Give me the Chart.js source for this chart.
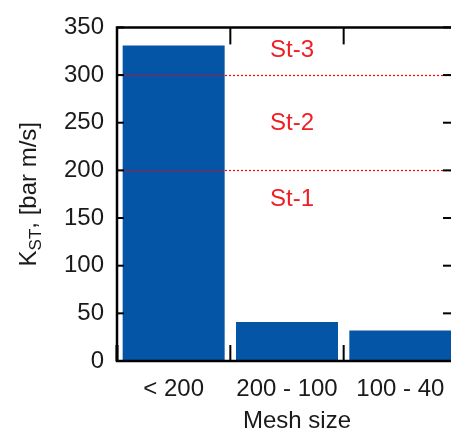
<!DOCTYPE html>
<html>
<head>
<meta charset="utf-8">
<script src="https://cdn.jsdelivr.net/npm/chart.js@4"></script>
<style>
html,body{margin:0;padding:0;background:#fff;overflow:hidden;}
#wrap{width:451px;height:432px;overflow:hidden;position:relative;}
#c{position:absolute;left:0;top:0;}
</style>
</head>
<body>
<div id="wrap"><canvas id="c" width="460" height="432"></canvas></div>
<script>
const categories = ["< 200", "200 - 100", "100 - 40"];
const kstValues = [331, 41, 32];
const yTicks = [0, 50, 100, 150, 200, 250, 300, 350];
const classLimits = [200, 300];
const classLabels = ["St-1", "St-2", "St-3"];
const classLabelValues = [170, 249, 326];

const FONT = "'Liberation Sans', Arial, sans-serif";
const TXT = "#1a1a1a";

const framePlugin = {
  id: 'frame',
  afterDatasetsDraw(chart) {
    const ctx = chart.ctx;
    const x = chart.scales.x, y = chart.scales.y;
    const L = chart.chartArea.left, R = chart.chartArea.right, T = chart.chartArea.top, B = chart.chartArea.bottom;
    ctx.save();
    // dotted class limit lines
    ctx.strokeStyle = '#ff0000';
    ctx.lineWidth = 1.2;
    ctx.setLineDash([2, 2]);
    classLimits.forEach(v => {
      const py = Math.round(y.getPixelForValue(v)) + 0.5;
      ctx.beginPath(); ctx.moveTo(L, py); ctx.lineTo(R, py); ctx.stroke();
    });
    ctx.setLineDash([]);
    // class labels
    ctx.fillStyle = '#f01e23';
    ctx.font = '24px ' + FONT;
    ctx.textAlign = 'center'; ctx.textBaseline = 'middle';
    classLabels.forEach((t, i) => {
      ctx.fillText(t, x.getPixelForValue(1) + 5, y.getPixelForValue(classLabelValues[i]));
    });
    // frame
    ctx.strokeStyle = '#000';
    ctx.lineWidth = 2.5;
    ctx.beginPath();
    ctx.moveTo(L, T); ctx.lineTo(R, T); ctx.lineTo(R, B); ctx.lineTo(L, B); ctx.closePath();
    ctx.stroke();
    // y ticks (inward, both sides)
    ctx.lineWidth = 2;
    yTicks.forEach(v => {
      const py = y.getPixelForValue(v);
      ctx.beginPath(); ctx.moveTo(L, py); ctx.lineTo(L + 7, py); ctx.stroke();
      ctx.beginPath(); ctx.moveTo(R - 14, py); ctx.lineTo(R, py); ctx.stroke();
    });
    // category boundary ticks
    for (let i = 0; i < categories.length - 1; i++) {
      const px = (x.getPixelForValue(i) + x.getPixelForValue(i + 1)) / 2;
      ctx.beginPath(); ctx.moveTo(px, T); ctx.lineTo(px, T + 17); ctx.stroke();
      ctx.beginPath(); ctx.moveTo(px, B); ctx.lineTo(px, B - 16); ctx.stroke();
    }
    ctx.lineWidth = 3;
    ctx.beginPath(); ctx.moveTo(L, B); ctx.lineTo(L, B - 16); ctx.stroke();
    // axis titles
    ctx.fillStyle = TXT;
    ctx.font = '24px ' + FONT;
    ctx.textAlign = 'center'; ctx.textBaseline = 'middle';
    ctx.fillText('Mesh size', 297, 421);
    // y title with subscript
    ctx.translate(27, (T + B) / 2);
    ctx.rotate(-Math.PI / 2);
    const big = '24px ' + FONT, small = '17px ' + FONT;
    ctx.textAlign = 'left'; ctx.textBaseline = 'alphabetic';
    ctx.font = big; const wK = ctx.measureText('K').width;
    ctx.font = small; const wS = ctx.measureText('ST').width;
    ctx.font = big; const wR = ctx.measureText(', [bar m/s]').width;
    let sx = -(wK + wS + wR) / 2;
    const base = 9;
    ctx.font = big; ctx.fillText('K', sx, base); sx += wK;
    ctx.font = small; ctx.fillText('ST', sx, base + 5); sx += wS;
    ctx.font = big; ctx.fillText(', [bar m/s]', sx, base);
    ctx.restore();
  }
};

new Chart(document.getElementById('c'), {
  type: 'bar',
  data: {
    labels: categories,
    datasets: [{
      data: kstValues,
      backgroundColor: '#0455a6',
      borderWidth: 0,
      barPercentage: 0.9,
      categoryPercentage: 1.0
    }]
  },
  options: {
    responsive: false,
    animation: false,
    devicePixelRatio: 1,
    layout: { padding: { top: 24, right: 3, left: 0, bottom: 0 } },
    plugins: { legend: { display: false }, tooltip: { enabled: false } },
    scales: {
      x: {
        grid: { display: false, drawTicks: false },
        border: { display: false },
        ticks: { color: TXT, font: { family: FONT, size: 24 }, padding: 14, maxRotation: 0, autoSkip: false },
        afterFit(s) { s.height = 71; }
      },
      y: {
        min: 0, max: 350,
        grid: { display: false, drawTicks: false },
        border: { display: false },
        afterBuildTicks(s) { s.ticks = yTicks.map(v => ({ value: v })); },
        ticks: { color: TXT, font: { family: FONT, size: 24 }, padding: 13 },
        afterFit(s) { s.width = 117; }
      }
    }
  },
  plugins: [framePlugin]
});
</script>
</body>
</html>
